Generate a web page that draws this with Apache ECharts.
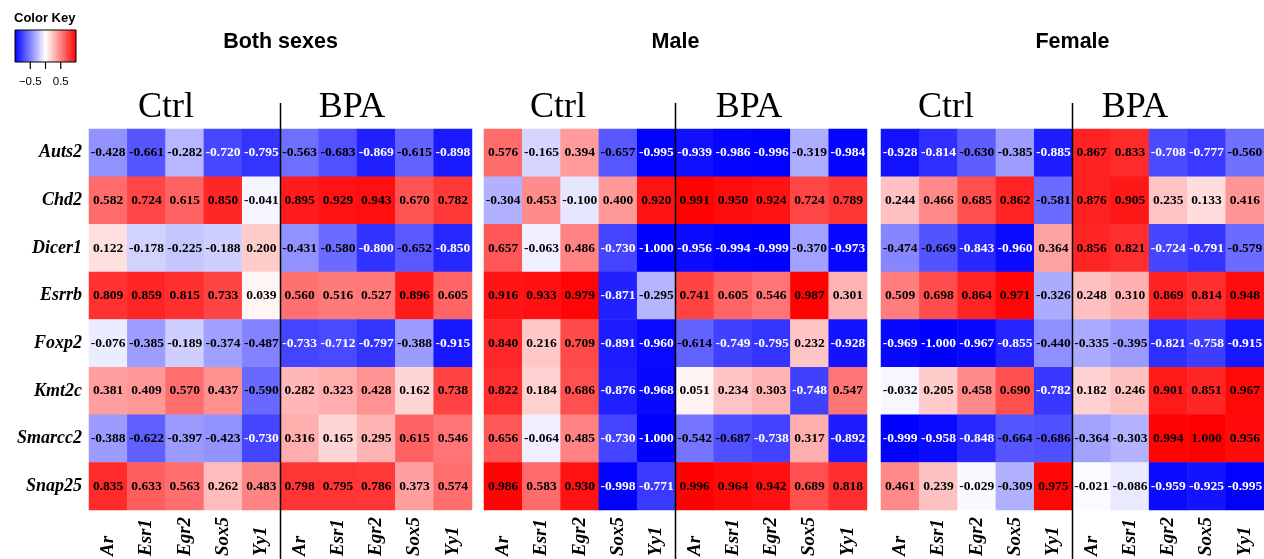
<!DOCTYPE html>
<html><head><meta charset="utf-8">
<script src="https://cdn.jsdelivr.net/npm/echarts@6/dist/echarts.min.js"></script>
<style>html,body{margin:0;padding:0;background:#fff}#c{width:1264px;height:559px}</style>
</head><body><div id="c"></div>
<script>
// ---- data ----
const rowGenes = ['Auts2','Chd2','Dicer1','Esrrb','Foxp2','Kmt2c','Smarcc2','Snap25'];
const colGenes = ['Ar','Esr1','Egr2','Sox5','Yy1'];
const groups = ['Ctrl','BPA'];
const panelTitles = ['Both sexes','Male','Female'];
const bothSexes = [
  [-0.428,-0.661,-0.282,-0.720,-0.795,-0.563,-0.683,-0.869,-0.615,-0.898],
  [0.582,0.724,0.615,0.850,-0.041,0.895,0.929,0.943,0.670,0.782],
  [0.122,-0.178,-0.225,-0.188,0.200,-0.431,-0.580,-0.800,-0.652,-0.850],
  [0.809,0.859,0.815,0.733,0.039,0.560,0.516,0.527,0.896,0.605],
  [-0.076,-0.385,-0.189,-0.374,-0.487,-0.733,-0.712,-0.797,-0.388,-0.915],
  [0.381,0.409,0.570,0.437,-0.590,0.282,0.323,0.428,0.162,0.738],
  [-0.388,-0.622,-0.397,-0.423,-0.730,0.316,0.165,0.295,0.615,0.546],
  [0.835,0.633,0.563,0.262,0.483,0.798,0.795,0.786,0.373,0.574]
];
const male = [
  [0.576,-0.165,0.394,-0.657,-0.995,-0.939,-0.986,-0.996,-0.319,-0.984],
  [-0.304,0.453,-0.100,0.400,0.920,0.991,0.950,0.924,0.724,0.789],
  [0.657,-0.063,0.486,-0.730,-1.000,-0.956,-0.994,-0.999,-0.370,-0.973],
  [0.916,0.933,0.979,-0.871,-0.295,0.741,0.605,0.546,0.987,0.301],
  [0.840,0.216,0.709,-0.891,-0.960,-0.614,-0.749,-0.795,0.232,-0.928],
  [0.822,0.184,0.686,-0.876,-0.968,0.051,0.234,0.303,-0.748,0.547],
  [0.656,-0.064,0.485,-0.730,-1.000,-0.542,-0.687,-0.738,0.317,-0.892],
  [0.986,0.583,0.930,-0.998,-0.771,0.996,0.964,0.942,0.689,0.818]
];
const female = [
  [-0.928,-0.814,-0.630,-0.385,-0.885,0.867,0.833,-0.708,-0.777,-0.560],
  [0.244,0.466,0.685,0.862,-0.581,0.876,0.905,0.235,0.133,0.416],
  [-0.474,-0.669,-0.843,-0.960,0.364,0.856,0.821,-0.724,-0.791,-0.579],
  [0.509,0.698,0.864,0.971,-0.326,0.248,0.310,0.869,0.814,0.948],
  [-0.969,-1.000,-0.967,-0.855,-0.440,-0.335,-0.395,-0.821,-0.758,-0.915],
  [-0.032,0.205,0.458,0.690,-0.782,0.182,0.246,0.901,0.851,0.967],
  [-0.999,-0.958,-0.848,-0.664,-0.686,-0.364,-0.303,0.994,1.000,0.956],
  [0.461,0.239,-0.029,-0.309,0.975,-0.021,-0.086,-0.959,-0.925,-0.995]
];
const keyRange = [-1, 1];
const keyTicks = [-0.5, 0, 0.5];
const keyTickLabels = ['\u22120.5', '', '0.5'];

// ---- layout / drawing ----
const chart = echarts.init(document.getElementById('c'), null, {renderer: 'canvas'});
const panels = [bothSexes, male, female];
const gridLefts = [89, 484, 881];
const gridTop = 129, gridW = 383, gridH = 382;
const headerOffsets = [[77, 263], [74, 265], [65, 254]];
const serif = "'Liberation Serif','Times New Roman',serif";
const sans = "'Liberation Sans',Arial,sans-serif";

const grids = [], xAxes = [], yAxes = [], series = [], graphics = [];
const xCats = [];
groups.forEach(g => colGenes.forEach(c => xCats.push(g + '|' + c)));

panels.forEach((p, i) => {
  grids.push({left: gridLefts[i], top: gridTop, width: gridW, height: gridH});
  xAxes.push({
    type: 'category', gridIndex: i, data: xCats, position: 'bottom',
    axisLine: {show: false}, axisTick: {show: false}, splitLine: {show: false},
    axisLabel: {
      interval: 0, rotate: 90, align: 'left', margin: 46,
      formatter: v => v.split('|')[1],
      fontFamily: serif, fontWeight: 'bold', fontStyle: 'italic', fontSize: 19, color: '#000'
    }
  });
  yAxes.push({
    type: 'category', gridIndex: i, data: rowGenes, inverse: true,
    axisLine: {show: false}, axisTick: {show: false}, splitLine: {show: false},
    axisLabel: {
      show: i === 0, interval: 0, margin: 7,
      fontFamily: serif, fontWeight: 'bold', fontStyle: 'italic', fontSize: 18, color: '#000'
    }
  });
  const data = [];
  p.forEach((row, r) => row.forEach((v, c) => {
    data.push({value: [c, r, v], label: {color: v < -0.695 ? '#ffffff' : '#000000'}});
  }));
  series.push({
    type: 'heatmap', xAxisIndex: i, yAxisIndex: i, data,
    label: {
      show: true, formatter: pr => pr.value[2].toFixed(3),
      fontFamily: serif, fontWeight: 'bold', fontSize: 13.5
    },
    itemStyle: {borderWidth: 0},
    emphasis: {disabled: true}
  });
  const midX = gridLefts[i] + gridW / 2;
  graphics.push({
    type: 'text', x: midX, y: 42,
    style: {text: panelTitles[i], font: 'bold 21.5px ' + sans, fill: '#000', align: 'center', verticalAlign: 'middle'}
  });
  groups.forEach((g, gi) => {
    graphics.push({
      type: 'text', x: gridLefts[i] + headerOffsets[i][gi], y: 108,
      style: {text: g, font: '36px ' + serif, fill: '#000', align: 'center', verticalAlign: 'middle'}
    });
  });
  graphics.push({
    type: 'line', z: 100,
    shape: {x1: midX, y1: 103, x2: midX, y2: 559},
    style: {stroke: '#000', lineWidth: 1.5}
  });
});

// colour key
const kx = 15, ky = 30, kw = 61, kh = 32;
graphics.push({
  type: 'text', x: 14, y: 18,
  style: {text: 'Color Key', font: 'bold 13px ' + sans, fill: '#000', align: 'left', verticalAlign: 'middle'}
});
graphics.push({
  type: 'rect', shape: {x: kx, y: ky, width: kw, height: kh},
  style: {
    fill: new echarts.graphic.LinearGradient(0, 0, 1, 0, [
      {offset: 0, color: '#0000ff'}, {offset: 0.5, color: '#ffffff'}, {offset: 1, color: '#ff0000'}
    ]),
    stroke: '#000', lineWidth: 1
  }
});
keyTicks.forEach((t, k) => {
  const tx = kx + (t - keyRange[0]) / (keyRange[1] - keyRange[0]) * kw;
  graphics.push({type: 'line', shape: {x1: tx, y1: ky + kh, x2: tx, y2: ky + kh + 7}, style: {stroke: '#000', lineWidth: 1.2}});
  if (keyTickLabels[k]) {
    graphics.push({
      type: 'text', x: tx, y: 82,
      style: {text: keyTickLabels[k], font: '11.5px ' + sans, fill: '#000', align: 'center', verticalAlign: 'middle'}
    });
  }
});

chart.setOption({
  backgroundColor: '#ffffff',
  animation: false,
  grid: grids,
  xAxis: xAxes,
  yAxis: yAxes,
  visualMap: {
    show: false, type: 'continuous', min: keyRange[0], max: keyRange[1], dimension: 2,
    seriesIndex: [0, 1, 2], inRange: {color: ['#0000ff', '#ffffff', '#ff0000']}
  },
  series,
  graphic: graphics
});
</script>
</body></html>
